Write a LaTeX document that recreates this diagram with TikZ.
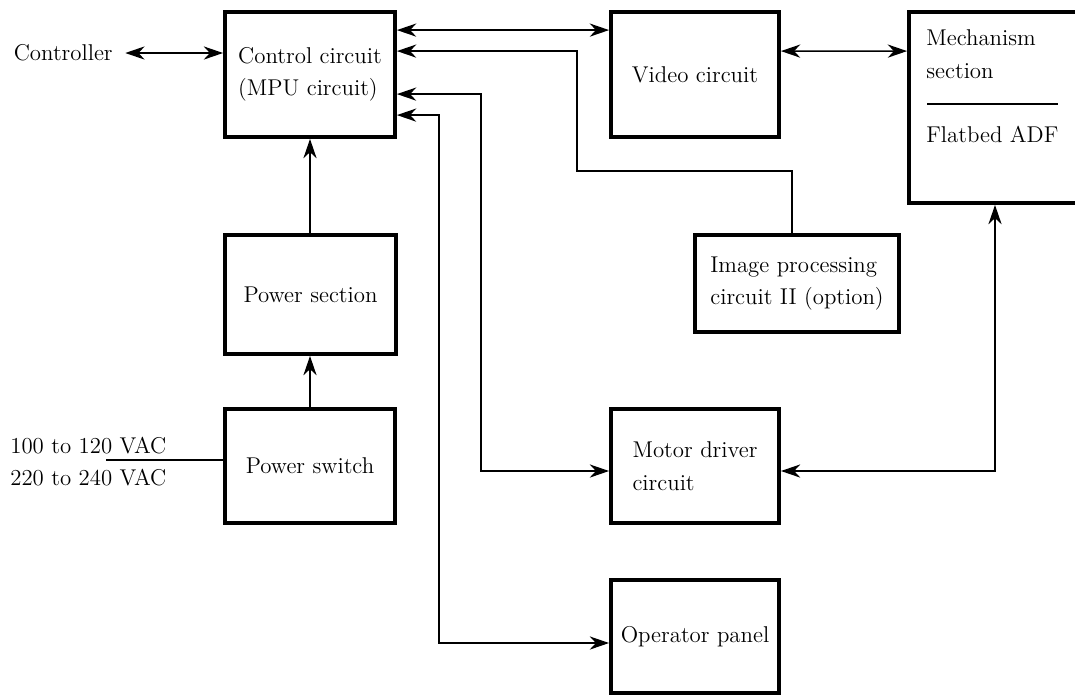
\documentclass[tikz,border=0pt]{standalone}
\usepackage{tikz}
\usetikzlibrary{positioning,calc,arrows.meta}

\tikzset{
  blk/.style={draw,line width=2.2pt,align=left,inner sep=0pt},
  lnk/.style={line width=0.8pt},
  tip/.tip={Stealth[length=11pt,width=7.5pt,inset=3.5pt]}
}

\begin{document}
\begin{tikzpicture}[x=0.02cm,y=-0.02cm,font=\fontsize{13}{18.5}\selectfont]
        \useasboundingbox (0,0) rectangle (1075,698);
        % blocks
        \node[blk,minimum width=3.4cm,minimum height=2.5cm] (ctrl) at (310,74.5) {Control circuit\\(MPU circuit)};
        \node[blk,minimum width=3.36cm,minimum height=2.5cm] (video) at (695,74.5) {Video circuit};
        \node[blk,minimum width=4.2cm,minimum height=3.82cm] (mech) at (1014,107.5) {};
        \node[blk,minimum width=4.08cm,minimum height=1.94cm] (imgp) at (797,283.5) {Image processing\\circuit II (option)};
        \node[blk,minimum width=3.42cm,minimum height=2.38cm] (pwrsec) at (310.5,294.5) {Power section};
        \node[blk,minimum width=3.4cm,minimum height=2.28cm] (pwrsw) at (310,466) {Power switch};
        \node[blk,minimum width=3.36cm,minimum height=2.28cm] (motor) at (695,466) {Motor driver\\circuit};
        \node[blk,minimum width=3.36cm,minimum height=2.26cm] (oppanel) at (695,636.5) {Operator panel};
        % texts outside
        \node[anchor=east,inner sep=0pt] (controller) at (113,53) {Controller};
        \node[anchor=base west,inner sep=0pt] (mechA) at (926,45) {Mechanism};
        \node[anchor=base west,inner sep=0pt] (mechB) at (926,78) {section};
        \node[anchor=base west,inner sep=0pt] (mechC) at (926,142) {Flatbed ADF};
        \node[anchor=base west,inner sep=0pt] (acA) at (10,453) {100 to 120 VAC};
        \node[anchor=base west,inner sep=0pt] (acB) at (10,485) {220 to 240 VAC};
        \draw[lnk] (927,104) -- (1058,104);
        % connections
        \draw[lnk,tip-tip] ([xshift=7pt]controller.east) -- (controller -| ctrl.west);
        \draw[lnk,tip-tip] ($(ctrl.north east)+(0,20)$) -- ($(video.north west)+(0,20)$);
        \draw[lnk,tip-tip] ($(video.north east)+(0,41)$) -- ($(mech.north west)+(0,41)$);
        \draw[lnk,-tip] (imgp.north -| 792,0) |- (577,171) |- ($(ctrl.north east)+(0,41)$);
        \draw[lnk,tip-tip] ($(ctrl.north east)+(0,84)$) -| (481,471) -- (motor.west |- 481,471);
        \draw[lnk,tip-tip] ($(ctrl.north east)+(0,105)$) -| (439,643) -- (oppanel.west |- 439,643);
        \draw[lnk,tip-tip] (motor.east |- 995,471) -| (mech.south -| 995,0);
        \draw[lnk,-tip] (pwrsec.north -| ctrl.south) -- (ctrl.south);
        \draw[lnk,-tip] (pwrsw.north) -- (pwrsec.south -| pwrsw.north);
        \draw[lnk] (106,460) -- (pwrsw.west |- 106,460);
\end{tikzpicture}
\end{document}
